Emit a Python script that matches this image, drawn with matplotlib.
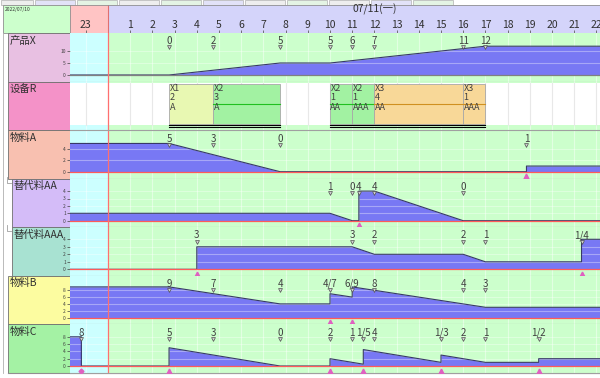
import matplotlib.pyplot as plt
from matplotlib.patches import Rectangle

plt.rcParams['font.family'] = ['Noto Sans CJK SC', 'DejaVu Sans']

# ---------------------------------------------------------------- data
hour_ticks = [-1] + list(range(1, 23))
hour_labels = ['23'] + [str(h) for h in range(1, 23)]
day_label = '07/11(一)'
day_center = 12
prev_day = '2022/07/10'

row_names = ['产品X', '设备R', '物料A', '替代料AA', '替代料AAA', '物料B', '物料C']

# product X: cumulative output
x_t = [-2, 2.75, 7.75, 10, 17, 23]
x_v = [0, 0, 5, 5, 12, 12]
x_lab_t = [2.75, 4.75, 7.75, 10, 11, 12, 16, 17]
x_lab = ['0', '2', '5', '5', '6', '7', '11', '12']

# equipment R: jobs
job_start = [2.75, 4.75, 10, 11, 12, 16]
job_end = [4.75, 7.75, 11, 12, 16, 17]
job_op = ['X1', 'X2', 'X2', 'X2', 'X3', 'X3']
job_qty = ['2', '3', '1', '1', '4', '1']
job_mat = ['A', 'A', 'AA', 'AAA', 'AA', 'AAA']

# material stock profiles
a_t = [-2, 2.75, 7.75, 18.85, 18.85, 23]
a_v = [5, 5, 0, 0, 1, 1]
a_lab_t = [2.75, 4.75, 7.75, 18.85]
a_lab = ['5', '3', '0', '1']
a_arr = [18.85]

aa_t = [-2, 10, 11, 11.3, 11.3, 12, 16, 23]
aa_v = [1, 1, 0, 0, 4, 4, 0, 0]
aa_lab_t = [10, 11, 11.3, 12, 16]
aa_lab = ['1', '0', '4', '4', '0']
aa_arr = [11.3]

aaa_t = [-2, 4, 4, 11, 12, 16, 17, 21.33, 21.33, 23]
aaa_v = [0, 0, 3, 3, 2, 2, 1, 1, 4, 4]
aaa_lab_t = [4, 11, 12, 16, 17, 21.33]
aaa_lab = ['3', '3', '2', '2', '1', '1/4']
aaa_arr = [4, 21.33]

b_t = [-2, 2.75, 7.75, 10, 10, 11, 11, 17, 23]
b_v = [9, 9, 4, 4, 7, 6, 9, 3, 3]
b_lab_t = [2.75, 4.75, 7.75, 10, 11, 12, 16, 17]
b_lab = ['9', '7', '4', '4/7', '6/9', '8', '4', '3']
b_arr = [10, 11]

c_t = [-2, -1.2, -1.2, 2.75, 2.75, 7.75, 10, 10, 11.5, 11.5, 15, 15, 17, 19.4, 19.4, 23]
c_v = [8, 8, 0, 0, 5, 0, 0, 2, 0.5, 4.5, 1, 3, 1, 1, 2, 2]
c_lab_t = [-1.2, 2.75, 4.75, 7.75, 10, 11, 11.5, 12, 15, 16, 17, 19.4]
c_lab = ['8', '5', '3', '0', '2', '1', '1/5', '4', '1/3', '2', '1', '1/2']
c_arr = [2.75, 10, 11.5, 15, 19.4]
c_out = [-1.2]

# ---------------------------------------------------------------- layout
W, H = 600, 378
X0_PX, PX_H = 108, 22.2          # midnight of 07/11, pixels per hour
LEFT = 70
T_MIN = (LEFT - X0_PX) / PX_H
T_MAX = (W - X0_PX) / PX_H
row_top = [33, 81.5, 130, 178.5, 227, 275.5, 324]
row_bot = row_top[1:] + [372.5]
panel_left = [8, 8, 8, 12, 12, 8, 8]
panel_col = ['#e8c0e2', '#f492c8', '#f8c0b0', '#d4bcf8', '#a8e2d2', '#fcfca0', '#a4f2a4']

GREEN, CYAN = '#ccffcc', '#ccffff'
FILL, EDGE = '#7878f4', '#383868'
GREY_TXT = '#404040'

fig = plt.figure(figsize=(6, 3.78), dpi=100)


def px_axes(x0, y0, x1, y1):
    return fig.add_axes([x0 / W, 1 - y1 / H, (x1 - x0) / W, (y1 - y0) / H])


# background (panels, tabs, tree)
bg = px_axes(0, 0, W, H)
bg.set_xlim(0, W)
bg.set_ylim(H, 0)
bg.axis('off')
bg.add_patch(Rectangle((0, 0), W, H, color='white', zorder=0))
tab_cols = ['#eeeeee', '#e2e2f8', '#e4f4e4', '#eeeeee', '#e4f4e4', '#e2e2f8',
            '#eeeeee', '#e4f4e4', '#eeeeee', '#e2e2f8', '#e4f4e4']
tx = 1
for i, c in enumerate(tab_cols):
    w = 32 if i == 0 else 40
    bg.add_patch(Rectangle((tx, 0), w, 5, facecolor=c, edgecolor='#b0b0b0', lw=0.5))
    tx += w + 2
bg.add_patch(Rectangle((3, 5), LEFT - 3, 28, facecolor=GREEN, edgecolor='#909090', lw=0.6))
bg.text(5, 7, prev_day, fontsize=3.5, va='top', ha='left', color='#303030')
bg.plot([3, 3], [33, 372.5], color='#b0b0b0', lw=0.6)
for i, name in enumerate(row_names):
    pl = panel_left[i]
    bg.add_patch(Rectangle((pl, row_top[i]), LEFT - pl, row_bot[i] - row_top[i],
                           facecolor=panel_col[i], edgecolor='#707070', lw=0.6, zorder=1))
    bg.text(pl + 2, row_top[i] + 2.5, name, fontsize=7.5, va='top', ha='left',
            color='#303030', zorder=3)
    if pl > 8:
        bg.plot([7, 7, 11], [row_top[i] - 2, row_top[i] + 4, row_top[i] + 4], color='#a0a0a0', lw=0.6)
bg.plot([8, W], [372.5, 372.5], color='#909090', lw=0.8)

# header
hdr = px_axes(LEFT, 5, W, 33)
hdr.set_xlim(T_MIN, T_MAX)
hdr.set_ylim(0, 1)
hdr.axvspan(T_MIN, 0, color='#ffc4c4', lw=0)
hdr.axvspan(0, T_MAX, color='#d4d4fa', lw=0)
hdr.axvline(0, color='#e07070', lw=0.8)
for sp in hdr.spines.values():
    sp.set_color('#909090')
    sp.set_linewidth(0.6)
hdr.set_yticks([])
hdr.set_xticks(hour_ticks)
hdr.tick_params(axis='x', direction='in', length=2, width=0.6, colors='#606060', labelbottom=False)
for t, s in zip(hour_ticks, hour_labels):
    hdr.text(t, 0.3, s, ha='center', va='center', fontsize=7.5, color='#303030')
hdr.text(day_center, 0.85, day_label, ha='center', va='center', fontsize=7.5, color='#303030')


def row_axes(i, base_px, ppu):
    top, bot = row_top[i], row_bot[i]
    ax = px_axes(LEFT, top, W, bot)
    ax.set_xlim(T_MIN, T_MAX)
    ax.set_ylim(-(bot - base_px) / ppu, (base_px - top) / ppu)
    ax.axvspan(T_MIN, 0, color=CYAN, lw=0, zorder=0)
    ax.axvspan(0, T_MAX, color=GREEN, lw=0, zorder=0)
    for h in range(-1, 23):
        ax.axvline(h, color='white', alpha=0.45, lw=0.8, zorder=1)
    ax.axvline(0, color='#ff7070', lw=0.9, zorder=6)
    for sp in ax.spines.values():
        sp.set_visible(False)
    ax.spines['bottom'].set_visible(True)
    ax.spines['bottom'].set_color('#a0a0a0')
    ax.spines['bottom'].set_linewidth(0.8)
    ax.tick_params(axis='x', bottom=False, labelbottom=False)
    return ax


def profile_row(i, base_px, ppu, ticks, t, v, lab_t, lab, arr=(), out=(), base_col='#ff5a5a'):
    ax = row_axes(i, base_px, ppu)
    h = row_bot[i] - row_top[i]
    ax.fill_between(t, v, 0, color=FILL, lw=0, zorder=2)
    ax.plot(t, v, color=EDGE, lw=0.8, zorder=4)
    for lv in ticks[1:]:
        ax.axhline(lv, color='white', alpha=0.35, lw=0.8, zorder=3)
    ax.axhline(0, color=base_col, lw=0.9, zorder=5)
    ax.set_yticks(ticks)
    ax.tick_params(axis='y', labelsize=3.5, length=2, width=0.5, pad=1, colors='#404040')
    tr = ax.get_xaxis_transform()
    for tt, s in zip(lab_t, lab):
        ax.text(tt, 1 - 8.5 / h, s, transform=tr, ha='center', va='center', fontsize=7, color=GREY_TXT, zorder=7)
    ax.plot(lab_t, [1 - 14.5 / h] * len(lab_t), 'v', transform=tr, ms=2.8,
            mfc='#d0d0d0', mec='#505050', mew=0.5, zorder=7, clip_on=False)
    yb = (row_bot[i] - base_px - 4.5) / h
    if arr:
        ax.plot(arr, [yb] * len(arr), '^', transform=tr, ms=3.5, color='#e060c0', zorder=7)
    if out:
        ax.plot(out, [yb] * len(out), 'D', transform=tr, ms=2.5, color='#e060c0', zorder=7)
    return ax


profile_row(0, 75, 2.4, [0, 5, 10], x_t, x_v, x_lab_t, x_lab, base_col='#808080')
profile_row(2, 171.7, 5.65, [0, 2, 4], a_t, a_v, a_lab_t, a_lab, a_arr)
profile_row(3, 220.7, 7.4, [0, 1, 2, 3, 4], aa_t, aa_v, aa_lab_t, aa_lab, aa_arr)
profile_row(4, 269.3, 7.5, [0, 1, 2, 3, 4], aaa_t, aaa_v, aaa_lab_t, aaa_lab, aaa_arr)
profile_row(5, 317.5, 3.4, [0, 2, 4, 6, 8], b_t, b_v, b_lab_t, b_lab, b_arr)
profile_row(6, 366, 3.65, [0, 2, 4, 6, 8], c_t, c_v, c_lab_t, c_lab, c_arr, c_out)

# equipment row
ax = row_axes(1, 130, 1)
ax.set_ylim(0, 1)
ax.set_yticks([])
hr = row_bot[1] - row_top[1]


def fy(py):
    return (row_bot[1] - py) / hr


tr = ax.get_xaxis_transform()
ax.add_patch(Rectangle((T_MIN, fy(125)), T_MAX - T_MIN, fy(83) - fy(125), transform=tr,
                       color='white', lw=0, zorder=1))
for h in range(-1, 23):
    ax.plot([h, h], [fy(125), fy(83)], transform=tr, color='#e8e8e8', lw=0.8, zorder=1)
op_face = {'X1': '#e8f8b2', 'X2': '#a2f2a2', 'X3': '#f8d898'}
op_line = {'X1': None, 'X2': '#20c020', 'X3': '#d09020'}
for s, e, op, q, m in zip(job_start, job_end, job_op, job_qty, job_mat):
    ax.add_patch(Rectangle((s, fy(124)), e - s, fy(84) - fy(124), transform=tr,
                           facecolor=op_face[op], edgecolor='#a8a8a8', lw=0.6, zorder=3))
    if op_line[op]:
        ax.plot([s, e], [fy(104), fy(104)], transform=tr, color=op_line[op], lw=0.8, zorder=4)
    for txt, py in zip([op, q, m], [88.5, 97.5, 107]):
        ax.text(s + 0.02, fy(py), txt, transform=tr, ha='left', va='center',
                fontsize=6.5, color=GREY_TXT, zorder=5)
groups = [(job_start[0], job_end[1]), (job_start[2], job_end[5])]
for s, e in groups:
    for py in (124.6, 126.6):
        ax.plot([s, e], [fy(py), fy(py)], transform=tr, color='black', lw=0.8, zorder=4)

fig.savefig('out.png', dpi=100)
